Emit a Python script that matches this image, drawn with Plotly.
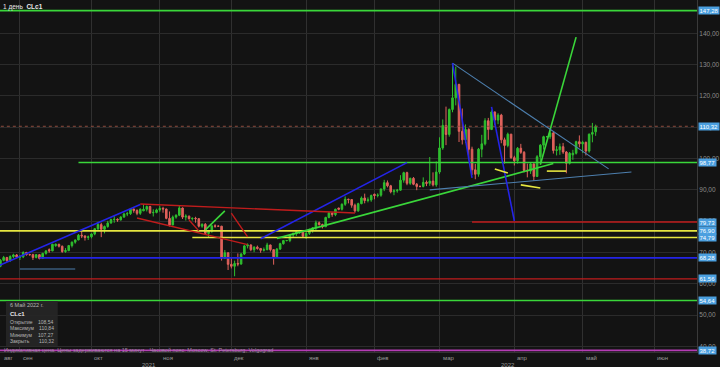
import pandas as pd
import plotly.graph_objects as go

# ---------------- data ----------------
dates = pd.bdate_range("2021-08-23", "2022-05-06")

opens = [
    65.0, 65.6, 67.5, 68.4, 67.4,   68.7, 69.2, 68.5, 68.6, 70.0,
    69.3, 69.3, 68.4, 69.3, 68.1,   69.7, 70.9, 70.5, 72.2, 72.6,
    72.0, 70.3, 70.6, 72.2, 73.3,   74.0, 75.5, 75.3, 74.8, 75.0,
    75.9, 77.6, 78.9, 77.4, 78.3,   79.4, 80.5, 80.6, 80.4, 81.3,
    82.3, 82.4, 83.9, 83.4, 82.5,   83.3, 83.8, 84.7, 82.7, 82.8,
    83.6, 84.1, 83.9, 80.9, 78.8,   81.3, 81.9, 84.2, 81.3, 81.6,
    80.8, 80.9, 80.8, 78.4, 79.0,   76.1, 76.8, 78.5, 78.4, 78.4,
    68.2, 69.9, 66.2, 65.6, 66.5,   66.3, 69.5, 72.1, 72.4, 70.9,
    71.7, 71.3, 70.7, 70.9, 72.4,   70.9, 68.6, 71.1, 72.8, 73.8,
    73.8, 75.6, 76.0, 76.6, 77.0,   75.2, 76.1, 77.0, 77.9, 79.5,
    78.9, 78.2, 81.2, 82.6, 82.1,   84.2, 83.8, 85.4, 87.0, 86.9,
    85.1, 83.3, 85.6, 87.4, 86.6,   86.8, 88.6, 88.2, 88.3, 90.3,
    92.3, 91.3, 89.4, 89.7, 89.9,   93.1, 95.5, 92.1, 93.7, 91.8,
    91.1, 91.1, 92.4, 92.1, 92.8,   91.6, 95.7, 103.4, 110.6, 107.7,
    115.7, 119.4, 123.7, 108.7, 106.0, 109.3, 103.0, 96.4, 95.0, 103.0,
    104.7, 112.1, 109.3, 114.9, 112.3, 113.9, 106.0, 104.2, 107.8, 100.3,
    99.3, 103.3, 102.0, 96.2, 96.0,  98.3, 94.3, 100.6, 104.3, 107.0,
    107.0, 108.2, 102.6, 102.8, 103.8, 102.1, 98.5, 101.2, 101.7, 105.4,
    104.7, 105.2, 102.4, 107.8, 108.54,
]
highs = [
    66.2, 67.9, 68.9, 68.6, 69.1,   69.6, 69.5, 69.2, 70.4, 70.2,
    69.6, 69.6, 69.5, 69.5, 69.9,   70.8, 71.3, 72.8, 72.9, 72.8,
    72.2, 71.4, 72.4, 73.5, 74.1,   75.9, 76.7, 75.4, 75.4, 76.1,
    77.8, 79.8, 79.5, 78.6, 80.1,   80.8, 81.6, 80.9, 81.6, 82.7,
    83.0, 84.1, 84.0, 83.8, 84.1,   85.4, 85.0, 84.9, 83.8, 84.0,
    84.9, 84.6, 84.0, 83.1, 81.8,   82.2, 84.9, 84.4, 82.2, 81.8,
    81.2, 81.4, 80.9, 79.3, 79.4,   77.2, 78.6, 79.0, 78.6, 78.5,
    70.8, 70.0, 68.5, 67.4, 69.7,   69.8, 72.4, 72.9, 72.6, 72.0,
    72.2, 71.3, 71.6, 73.1, 72.5,   71.0, 71.4, 73.1, 73.9, 74.0,
    75.8, 76.4, 76.9, 77.2, 77.1,   76.5, 77.6, 78.1, 80.2, 79.9,
    79.2, 81.4, 82.9, 82.8, 84.0,   84.3, 85.7, 87.9, 87.2, 87.0,
    85.6, 85.9, 87.9, 88.8, 87.6,   88.5, 88.8, 88.9, 90.4, 93.2,
    93.0, 91.6, 90.2, 90.3, 94.7,   95.8, 95.8, 93.9, 94.1, 92.2,
    91.4, 94.0, 93.0, 100.5, 95.6,  99.1, 106.8, 112.5, 116.6, 116.0,
    130.5, 129.4, 123.9, 116.0, 110.9, 109.7, 103.8, 98.3, 103.4, 107.6,
    112.9, 113.0, 115.4, 115.0, 114.5, 114.3, 106.7, 108.3, 107.9, 100.9,
    103.7, 104.7, 102.4, 98.4, 98.8, 98.5, 101.1, 104.6, 107.3, 107.2,
    109.8, 108.5, 104.0, 104.8, 105.0, 102.4, 102.1, 102.8, 105.7, 107.4,
    105.7, 105.4, 108.0, 111.4, 110.84,
]
lows = [
    64.5, 65.3, 67.2, 67.0, 67.0,   68.2, 68.1, 67.6, 68.2, 69.0,
    69.0, 67.6, 68.1, 67.8, 67.9,   69.3, 69.9, 70.4, 71.8, 71.6,
    69.9, 69.9, 70.4, 71.6, 72.8,   73.9, 74.6, 73.8, 74.0, 74.5,
    75.5, 77.1, 74.9, 76.1, 77.9,   79.2, 79.5, 79.8, 80.2, 81.1,
    81.6, 82.0, 82.7, 81.9, 82.0,   83.2, 83.1, 82.3, 81.5, 82.5,
    83.0, 82.7, 80.6, 78.3, 78.7,   80.8, 81.6, 80.7, 80.2, 80.5,
    80.2, 79.5, 78.0, 77.9, 75.7,   74.9, 76.3, 77.9, 78.2, 67.4,
    67.9, 64.4, 64.9, 62.4, 65.6,   66.1, 69.2, 71.3, 70.4, 70.1,
    70.9, 69.9, 70.3, 70.7, 70.3,   66.1, 68.4, 70.8, 72.5, 73.6,
    73.3, 74.9, 75.3, 75.9, 74.9,   74.3, 75.6, 76.3, 76.8, 78.6,
    77.7, 78.2, 80.9, 81.4, 81.6,   83.5, 83.4, 84.9, 85.7, 84.3,
    82.7, 83.0, 85.4, 85.7, 86.0,   86.2, 87.0, 87.6, 87.8, 89.6,
    90.8, 88.9, 88.3, 89.1, 89.7,   92.3, 91.5, 91.6, 91.5, 89.9,
    90.8, 90.8, 91.2, 91.3, 91.1,   91.0, 95.1, 102.8, 104.3, 107.0,
    114.8, 117.0, 105.3, 104.5, 105.0, 100.0, 94.8, 93.4, 94.2, 100.4,
    104.2, 106.0, 109.1, 110.8, 111.0, 104.9, 98.4, 103.6, 99.9, 97.8,
    98.4, 101.5, 95.6, 94.0, 95.1,  92.9, 94.1, 98.6, 102.9, 106.8,
    106.3, 101.6, 101.0, 101.2, 101.5, 95.3, 98.1, 99.6, 101.3, 103.6,
    101.8, 101.0, 101.9, 105.2, 107.27,
]
closes = [
    65.6, 67.5, 68.4, 67.4, 68.7,   69.2, 68.5, 68.6, 70.0, 69.3,
    69.3, 68.4, 69.3, 68.1, 69.7,   70.5, 70.5, 72.6, 72.6, 72.0,
    70.3, 70.6, 72.2, 73.3, 74.0,   75.5, 75.3, 74.8, 75.0, 75.9,
    77.6, 78.9, 77.4, 78.3, 79.4,   80.5, 80.6, 80.4, 81.3, 82.3,
    82.4, 83.9, 83.4, 82.5, 83.8,   83.8, 84.7, 82.7, 82.8, 83.6,
    84.1, 83.9, 80.9, 78.8, 81.3,   81.9, 84.2, 81.3, 81.6, 80.8,
    80.9, 80.8, 78.4, 79.0, 76.1,   76.8, 78.5, 78.4, 78.4, 68.2,
    69.9, 66.2, 65.6, 66.5, 66.3,   69.5, 72.1, 72.4, 70.9, 71.7,
    71.3, 70.7, 70.9, 72.4, 70.9,   68.6, 71.1, 72.8, 73.8, 73.8,
    75.6, 76.0, 76.6, 77.0, 75.2,   76.1, 77.0, 77.9, 79.5, 78.9,
    78.2, 81.2, 82.6, 82.1, 83.8,   83.8, 85.4, 87.0, 86.9, 85.1,
    83.3, 85.6, 87.4, 86.6, 86.8,   88.2, 88.2, 88.3, 90.3, 92.3,
    91.3, 89.4, 89.7, 89.9, 93.1,   95.5, 92.1, 93.7, 91.8, 91.1,
    91.1, 92.4, 92.1, 92.8, 91.6,   95.7, 103.4, 110.6, 107.7, 115.7,
    119.4, 123.7, 108.7, 106.0, 109.3, 103.0, 96.4, 95.0, 103.0, 104.7,
    112.1, 109.3, 114.9, 112.3, 113.9, 106.0, 104.2, 107.8, 100.3, 99.3,
    103.3, 102.0, 96.2, 96.0, 98.3,  94.3, 100.6, 104.3, 107.0, 107.0,
    108.2, 102.6, 102.8, 103.8, 102.1, 98.5, 101.7, 101.7, 105.4, 104.7,
    105.2, 102.4, 107.8, 108.3, 110.32,
]

# horizontal levels
level_prices = [147.28, 110.32, 98.77, 79.73, 76.90, 74.79, 68.28, 61.56, 54.64, 38.72]
level_labels = ["147,28", "110,32", "98,77", "79,73", "76,90", "74,79", "68,28", "61,56", "54,64", "38,72"]
level_starts = ["2021-08-02", "2021-08-02", "2021-09-27", "2022-03-15", "2021-08-02",
                "2021-11-15", "2021-09-09", "2021-08-02", "2021-08-02", "2021-08-02"]
level_end = "2022-07-29"
level_kinds = ["green", "price", "green", "red", "yellow", "yellow", "blue", "red", "green", "magenta"]

# drawn trend lines
trend_start_dates = ["2021-08-23", "2021-12-14", "2021-10-22", "2021-10-21", "2021-11-12", "2021-12-01",
                     "2021-11-19", "2021-12-21", "2022-04-13", "2022-03-07", "2022-02-24", "2022-03-07",
                     "2022-03-23", "2022-03-24", "2022-04-05", "2022-04-15", "2021-09-01"]
trend_start_prices = [65.6, 74.4, 85.5, 81.0, 80.4, 82.6, 77.2, 74.5, 98.0, 130.5, 90.0, 130.5,
                      116.5, 96.7, 91.6, 96.0, 64.7]
trend_end_dates = ["2021-10-22", "2022-02-15", "2022-01-24", "2021-12-08", "2021-11-17", "2021-12-08",
                   "2021-11-29", "2022-04-19", "2022-04-28", "2022-05-12", "2022-05-23", "2022-03-15",
                   "2022-04-01", "2022-03-30", "2022-04-13", "2022-04-25", "2021-09-24"]
trend_end_prices = [85.3, 98.7, 82.6, 72.5, 76.9, 75.0, 83.3, 98.4, 138.8, 96.7, 95.7, 93.8,
                    80.1, 95.4, 90.6, 96.0, 64.7]
trend_kinds = ["blue", "blue", "red", "red", "red", "red", "green", "green", "green", "steel", "steel",
               "blue", "blue", "yellow", "yellow", "yellow", "steel"]

# axis labels
y_ticks = [40, 50, 60, 70, 80, 90, 100, 110, 120, 130, 140]
y_ticktext = ["40,00", "50,00", "60,00", "70,00", "80,00", "90,00", "100,00", "110,00", "120,00", "130,00", "140,00"]
month_dates = ["2021-09-01", "2021-10-01", "2021-11-01", "2021-12-01", "2022-01-03", "2022-02-01",
               "2022-03-01", "2022-04-01", "2022-05-02", "2022-06-01"]
month_names = ["сен", "окт", "ноя", "дек", "янв", "фев", "мар", "апр", "май", "июн"]

tooltip_rows = [("Открытие", "108,54"), ("Максимум", "110,84"), ("Минимум", "107,27"), ("Закрыть", "110,32")]

# ---------------- styles ----------------
colors = {"green": "#3ad63a", "blue": "#2424e8", "red": "#c01c1c", "yellow": "#e6e640",
          "magenta": "#b53cb5", "steel": "#4d7fae", "price": "#8e4c3e"}
widths = {"green": 1.6, "blue": 1.6, "red": 1.4, "yellow": 1.6, "magenta": 1.6, "steel": 1.1, "price": 1.0}
BG = "#131313"
FONT = "Liberation Sans, Arial, sans-serif"

fig = go.Figure()
fig.add_trace(go.Candlestick(
    x=dates, open=opens, high=highs, low=lows, close=closes,
    increasing=dict(line=dict(color="#2fbf2f", width=1), fillcolor="#2fbf2f"),
    decreasing=dict(line=dict(color="#e0625c", width=1), fillcolor="#e0625c"),
    hoverinfo="skip", showlegend=False,
))

for p, s, k in zip(level_prices, level_starts, level_kinds):
    fig.add_trace(go.Scatter(
        x=[s, level_end], y=[p, p], mode="lines", hoverinfo="skip", showlegend=False,
        line=dict(color=colors[k], width=widths[k], dash="dot" if k == "price" else "solid"),
    ))

for d0, p0, d1, p1, k in zip(trend_start_dates, trend_start_prices, trend_end_dates, trend_end_prices, trend_kinds):
    fig.add_trace(go.Scatter(
        x=[d0, d1], y=[p0, p1], mode="lines", hoverinfo="skip", showlegend=False,
        line=dict(color=colors[k], width=widths[k]),
    ))

annotations = []
# right-side price boxes
for p, t in zip(level_prices, level_labels):
    annotations.append(dict(xref="paper", yref="y", x=1, y=p, xanchor="left", yanchor="middle",
                            xshift=1, text=t, showarrow=False, bgcolor="#4b9fdf", borderpad=0.5,
                            font=dict(size=6, color="#ffffff", family=FONT)))
# month labels
annotations.append(dict(xref="paper", yref="paper", x=0.003, y=0, xanchor="left", yanchor="top",
                        yshift=-1, text="авг", showarrow=False, font=dict(size=6, color="#9a9a9a", family=FONT)))
for d, m in zip(month_dates, month_names):
    annotations.append(dict(xref="x", yref="paper", x=d, y=0, xanchor="left", yanchor="top",
                            xshift=1, yshift=-1, text=m, showarrow=False,
                            font=dict(size=6, color="#9a9a9a", family=FONT)))
for xp, yr in [(150 / 700, "2021"), (510 / 700, "2022")]:
    annotations.append(dict(xref="paper", yref="paper", x=xp, y=0, xanchor="center", yanchor="top",
                            yshift=-8, text=yr, showarrow=False, font=dict(size=6, color="#9a9a9a", family=FONT)))
# top-left title
annotations.append(dict(xref="paper", yref="paper", x=0.002, y=1, xanchor="left", yanchor="top",
                        yshift=-1, text="1 день  <b>CLc1</b>", showarrow=False,
                        font=dict(size=6.5, color="#e8e8e8", family=FONT)))
# footer
annotations.append(dict(xref="paper", yref="paper", x=0.003, y=(352 - 350) / 352, xanchor="left", yanchor="middle",
                        text="Индикативная цена. Цены задерживаются на 15 минут · Часовой пояс: Moscow, St. Petersburg, Volgograd",
                        showarrow=False, font=dict(size=5.5, color="#a58aa8", family=FONT)))
# tooltip panel
annotations.append(dict(xref="paper", yref="paper", x=8 / 700, y=(352 - 305) / 352, xanchor="left", yanchor="middle",
                        text="6 Май 2022 г.", showarrow=False, font=dict(size=5.5, color="#b5b5b5", family=FONT)))
annotations.append(dict(xref="paper", yref="paper", x=8 / 700, y=(352 - 313.5) / 352, xanchor="left", yanchor="middle",
                        text="<b>CLc1</b>", showarrow=False, font=dict(size=6, color="#e8e8e8", family=FONT)))
for i, (lab, val) in enumerate(tooltip_rows):
    yy = (352 - (322 + 6.3 * i)) / 352
    annotations.append(dict(xref="paper", yref="paper", x=8 / 700, y=yy, xanchor="left", yanchor="middle",
                            text=lab, showarrow=False, font=dict(size=5, color="#b5b5b5", family=FONT)))
    annotations.append(dict(xref="paper", yref="paper", x=56 / 700, y=yy, xanchor="right", yanchor="middle",
                            text=val, showarrow=False, font=dict(size=5, color="#b5b5b5", family=FONT)))

shapes = [dict(type="rect", xref="paper", yref="paper", x0=6 / 700, x1=58 / 700,
               y0=(352 - 346) / 352, y1=(352 - 301) / 352, fillcolor="#262626", opacity=0.92,
               line=dict(width=0), layer="above")]

fig.update_layout(
    width=720, height=367,
    margin=dict(l=0, r=20, t=0, b=15),
    paper_bgcolor=BG, plot_bgcolor=BG,
    font=dict(family=FONT, color="#9a9a9a"),
    showlegend=False,
    annotations=annotations,
    shapes=shapes,
    xaxis=dict(
        type="date",
        range=["2021-08-23 21:00", "2022-06-20 04:00"],
        rangebreaks=[dict(bounds=["sat", "mon"])],
        rangeslider=dict(visible=False),
        tickvals=month_dates, showticklabels=False,
        showgrid=True, gridcolor="#303030", gridwidth=1,
        showline=True, linecolor="#333333", zeroline=False,
        ticks="",
    ),
    yaxis=dict(
        side="right", range=[38.2, 150.67],
        tickvals=y_ticks, ticktext=y_ticktext,
        tickfont=dict(size=6.5, color="#8c8c8c", family=FONT),
        showgrid=True, gridcolor="#2b2b2b", gridwidth=1,
        showline=True, linecolor="#3a3a3a", zeroline=False, ticks="",
    ),
)

fig.write_html("out.html")
